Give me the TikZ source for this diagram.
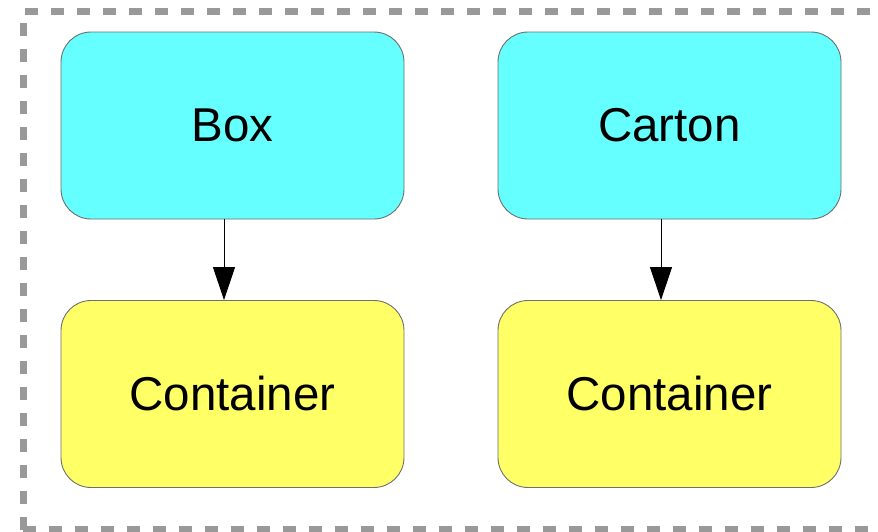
\documentclass[tikz,border=0pt]{standalone}
\usepackage{fontspec}
\setmainfont{Liberation Sans}
\usetikzlibrary{arrows.meta,calc}
\definecolor{framegray}{HTML}{999999}
\definecolor{edgegray}{HTML}{6E6E6E}
\definecolor{boxcyan}{HTML}{66FFFF}
\definecolor{boxyellow}{HTML}{FFFF66}
\tikzset{
  card/.style={draw=edgegray, line width=0.9pt, rounded corners=30pt,
    minimum width=343pt, minimum height=187pt, inner sep=0pt,
    font=\fontsize{47.5}{54}\selectfont},
  upper/.style={card, fill=boxcyan},
  lower/.style={card, fill=boxyellow},
  link/.style={line width=1pt, -{Triangle[length=33pt,width=22pt]}},
  frame/.style={framegray, line width=7pt, dash pattern=on 13pt off 13pt}
}
\begin{document}
\begin{tikzpicture}[x=1pt,y=-1pt]
\useasboundingbox (0,0) rectangle (878,531);
% dashed package frame
\draw[frame] (23,529.5) -- (23,11.5) -- (900,11.5);
\draw[frame] (23,529.5) -- (900,529.5);
% boxes
\node[upper] (box) at (232.5,125.5) {Box};
\node[upper] (carton) at (669.5,125.5) {Carton};
\node[lower] (cont1) at (232.5,394) {Container};
\node[lower] (cont2) at (669.5,394) {Container};
% dependencies
\draw[link] ($(box.south)+(-8.5,0)$) -- ($(cont1.north)+(-8.5,0)$);
\draw[link] ($(carton.south)+(-8.5,0)$) -- ($(cont2.north)+(-8.5,0)$);
\end{tikzpicture}
\end{document}
